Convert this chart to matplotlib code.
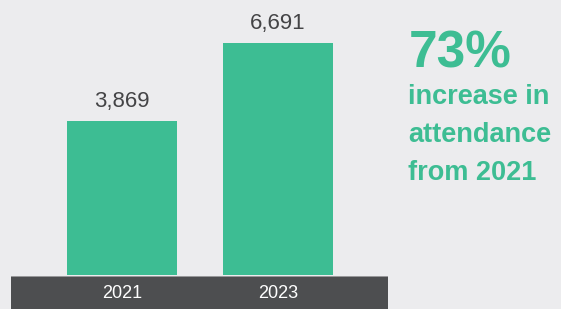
import matplotlib.pyplot as plt

years = ['2021', '2023']
attendance = [3869, 6691]
headline = '73%'
sublines = ['increase in', 'attendance', 'from 2021']

BG = '#ececee'
GREEN = '#3dbd93'
BAND = '#4d4e50'
LABEL = '#444446'

plt.rcParams['font.family'] = ['Liberation Sans', 'DejaVu Sans']

fig = plt.figure(figsize=(5.61, 3.09), dpi=100, facecolor=BG)

# bar area: pixel x 11..388, y 0..275 (the scale does not start at zero)
W, H = 561, 309
ax = fig.add_axes([11 / W, (H - 275) / H, 377 / W, 275 / H])
ax.set_facecolor(BG)
base = -1700
xs = range(len(years))
ax.bar(xs, [v - base for v in attendance], bottom=base, width=0.705, color=GREEN)
for x, v in zip(xs, attendance):
    ax.text(x, v + 500, f'{v:,}', ha='center', va='baseline', fontsize=16, color=LABEL)
ax.set_xlim(-0.71, 1.705)
ax.set_ylim(base, 8250)
ax.axis('off')

# dark band with the year labels
band = fig.add_axes([11 / W, 0, 377 / W, (H - 276) / H])
band.set_facecolor(BAND)
band.set_xlim(-0.71, 1.705)
band.set_ylim(0, 1)
for x, y in zip(xs, years):
    band.text(x, 0.47, y, ha='center', va='center', fontsize=13, color='white')
band.set_xticks([])
band.set_yticks([])
for s in band.spines.values():
    s.set_visible(False)
band.axhline(1, color='#a8a8aa', lw=1.2)

# headline text on the right
fig.text(409 / W, 1 - 67 / H, headline, fontsize=37, fontweight='bold', color=GREEN,
         va='baseline')
for i, line in enumerate(sublines):
    fig.text(408 / W, 1 - (104 + 38 * i) / H, line, fontsize=19.5, fontweight='bold',
             color=GREEN, va='baseline')

fig.savefig('out.png', dpi=100, facecolor=BG)
